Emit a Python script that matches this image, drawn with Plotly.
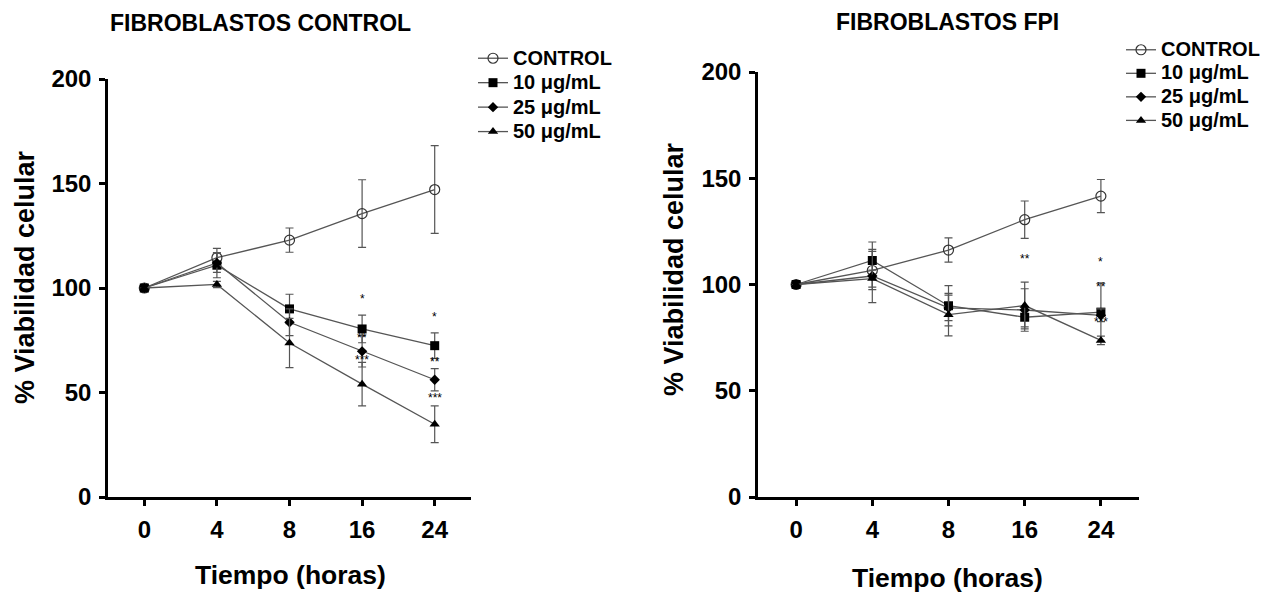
import plotly.graph_objects as go

W, H = 1277, 605
OFF = 8  # page body margin compensation

hours = ["0", "4", "8", "16", "24"]
series_names = ["CONTROL", "10 μg/mL", "25 μg/mL", "50 μg/mL"]

# Left panel: FIBROBLASTOS CONTROL
ctrl_L = [100, 114.5, 122.9, 135.6, 147.1]
ctrl_L_err = [0, 4.5, 5.8, 16.2, 21.0]
d10_L = [100, 110.9, 90.0, 80.4, 72.4]
d10_L_err = [0, 6.0, 7.0, 6.6, 6.1]
d25_L = [100, 112.0, 83.6, 69.7, 56.1]
d25_L_err = [0, 4.5, 6.4, 7.5, 5.3]
d50_L = [100, 101.7, 73.7, 54.0, 34.8]
d50_L_err = [0, 1.5, 11.8, 10.4, 8.8]

# Right panel: FIBROBLASTOS FPI
ctrl_R = [100, 106.6, 116.2, 130.5, 141.6]
ctrl_R_err = [0, 9.0, 5.7, 8.8, 7.8]
d10_R = [100, 111.3, 90.0, 84.6, 87.0]
d10_R_err = [0, 8.7, 9.5, 4.5, 13.8]
d25_R = [100, 104.0, 89.0, 88.0, 85.5]
d25_R_err = [0, 12.5, 6.0, 10.0, 3.0]
d50_R = [100, 102.8, 85.8, 90.1, 73.7]
d50_R_err = [0, 4.0, 10.0, 11.0, 2.0]

# significance marks
sig_L_x = ["16", "16", "16", "24", "24", "24"]
sig_L_y = [96.1, 77.4, 66.8, 87.8, 66.0, 48.6]
sig_L_t = ["*", "**", "***", "*", "**", "***"]
sig_R_x = ["16", "24", "24", "24"]
sig_R_y = [113.3, 111.8, 100.3, 84.0]
sig_R_t = ["**", "*", "**", "***"]

y_ticks = [0, 50, 100, 150, 200]

LINE = "#555555"
FONT = "Liberation Sans"

markers = [
    dict(symbol="circle-open", size=10, color="#333333", line=dict(width=1.2, color="#333333")),
    dict(symbol="square", size=9, color="black"),
    dict(symbol="diamond", size=8, color="black"),
    dict(symbol="triangle-up", size=9, color="black"),
]

fig = go.Figure()


def add_panel(xa, ya, legend, vals, errs, name_px):
    for i, (name, v, e) in enumerate(zip(series_names, vals, errs)):
        fig.add_trace(go.Scatter(
            x=hours, y=v,
            name='<span style="font-size:%dpx">%s</span>' % (name_px, name),
            mode="lines+markers",
            xaxis=xa, yaxis=ya, legend=legend,
            line=dict(color=LINE, width=1.3),
            marker=markers[i],
            error_y=dict(type="data", array=e, visible=True, color=LINE,
                         thickness=1.2, width=4),
        ))


add_panel("x", "y", "legend",
          [ctrl_L, d10_L, d25_L, d50_L],
          [ctrl_L_err, d10_L_err, d25_L_err, d50_L_err], 20)
add_panel("x2", "y2", "legend2",
          [ctrl_R, d10_R, d25_R, d50_R],
          [ctrl_R_err, d10_R_err, d25_R_err, d50_R_err], 20)


def px(x):
    return (x - OFF) / W


def py(y):
    return 1 - (y - OFF) / H


axis_common = dict(showline=True, linecolor="black", linewidth=2.5,
                   ticks="outside", ticklen=6, tickwidth=2.5, tickcolor="black",
                   showgrid=False, zeroline=False, automargin=False,
                   tickfont=dict(family=FONT, size=24, color="black", weight="bold"))

fig.update_layout(
    width=W, height=H,
    margin=dict(l=0, r=0, t=0, b=0, autoexpand=False),
    paper_bgcolor="white", plot_bgcolor="white",
    xaxis=dict(domain=[px(108), px(471)], anchor="y", type="category",
               range=[-0.5, 4.5], ticklabelstandoff=3, **axis_common),
    yaxis=dict(domain=[py(497), py(79)], anchor="x", range=[0, 200],
               tickvals=y_ticks, ticklabelstandoff=3, **axis_common),
    xaxis2=dict(domain=[px(758), px(1139)], anchor="y2", type="category",
                range=[-0.5, 4.5], ticklabelstandoff=3, **axis_common),
    yaxis2=dict(domain=[py(497), py(72)], anchor="x2", range=[0, 200],
                tickvals=y_ticks, ticklabelstandoff=3, **axis_common),
    legend=dict(x=px(473), y=py(41), xanchor="left", yanchor="top",
                bgcolor="rgba(0,0,0,0)",
                font=dict(family=FONT, size=16.5, color="black", weight="bold")),
    legend2=dict(x=px(1121), y=py(33), xanchor="left", yanchor="top",
                 bgcolor="rgba(0,0,0,0)",
                 font=dict(family=FONT, size=15.8, color="black", weight="bold")),
    showlegend=True,
)

title_font = dict(family=FONT, size=23, color="black", weight="bold")
axt_font = dict(family=FONT, size=26.5, color="black", weight="bold")
ayt_font = dict(family=FONT, size=27, color="black", weight="bold")

annots = [
    dict(text="FIBROBLASTOS CONTROL", x=px(260), y=py(23), font=title_font),
    dict(text="FIBROBLASTOS FPI", x=px(947), y=py(22), font=title_font),
    dict(text="Tiempo (horas)", x=px(290), y=py(575), font=axt_font),
    dict(text="Tiempo (horas)", x=px(947), y=py(578), font=axt_font),
    dict(text="% Viabilidad celular", x=px(25), y=py(277), font=ayt_font, textangle=-90),
    dict(text="% Viabilidad celular", x=px(674), y=py(269), font=ayt_font, textangle=-90),
]
for a in annots:
    fig.add_annotation(xref="paper", yref="paper", showarrow=False,
                       xanchor="center", yanchor="middle", **a)

for xs, ys, ts, xr, yr in [(sig_L_x, sig_L_y, sig_L_t, "x", "y"),
                           (sig_R_x, sig_R_y, sig_R_t, "x2", "y2")]:
    for xv, yv, tv in zip(xs, ys, ts):
        fig.add_annotation(x=hours.index(xv), y=yv, xref=xr, yref=yr, text=tv,
                           showarrow=False, yshift=-3,
                           font=dict(family=FONT, size=12, color="black"))

fig.write_html("out.html")
